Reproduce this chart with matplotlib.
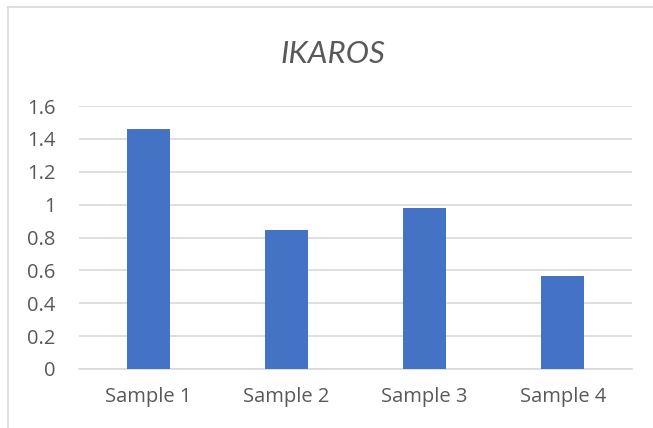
import matplotlib
matplotlib.use('Agg')
import matplotlib.pyplot as plt
from matplotlib.lines import Line2D

categories = ['Sample 1', 'Sample 2', 'Sample 3', 'Sample 4']
values = [1.46, 0.845, 0.977, 0.568]
yticks = [0, 0.2, 0.4, 0.6, 0.8, 1, 1.2, 1.4, 1.6]
ytick_labels = ['0', '0.2', '0.4', '0.6', '0.8', '1', '1.2', '1.4', '1.6']

W, H = 653, 428
fig = plt.figure(figsize=(W / 100, H / 100), dpi=100)
plt.rcParams['font.family'] = ['Open Sans', 'DejaVu Sans']

# plot area in pixels: x 79..632, y 106..369
ax = fig.add_axes([79 / W, 1 - 369 / H, (632 - 79) / W, (369 - 106) / H])
ax.bar(range(len(categories)), values, width=0.31, color='#4472C4', zorder=3)
ax.set_xlim(-0.5, 3.5)
ax.set_ylim(0, 1.6)
ax.set_yticks(yticks)
ax.set_yticklabels(ytick_labels)
ax.set_xticks(range(len(categories)))
ax.set_xticklabels(categories)
ax.grid(axis='y', color='#D9D9D9', linewidth=1.2, zorder=0)
for s in ['top', 'right', 'left']:
    ax.spines[s].set_visible(False)
ax.spines['bottom'].set_color('#D9D9D9')
ax.spines['bottom'].set_linewidth(1.2)
ax.tick_params(axis='both', length=0, colors='#595959', labelsize=14.5)
ax.tick_params(axis='y', pad=17)
ax.tick_params(axis='x', pad=13)
for lab in ax.get_yticklabels():
    lab.set_horizontalalignment('right')

fig.text(333 / W, 1 - 54 / H, 'IKAROS', ha='center', va='center',
         fontsize=22.5, style='italic', color='#595959',
         family=['Lato', 'DejaVu Sans'])

# chart frame
fig.add_artist(Line2D([8 / W, 8 / W], [0, 1 - 7 / H], color='#D9D9D9', lw=1.2))
fig.add_artist(Line2D([8 / W, 1], [1 - 7 / H, 1 - 7 / H], color='#D9D9D9', lw=1.2))

fig.savefig('out.png', dpi=100)
